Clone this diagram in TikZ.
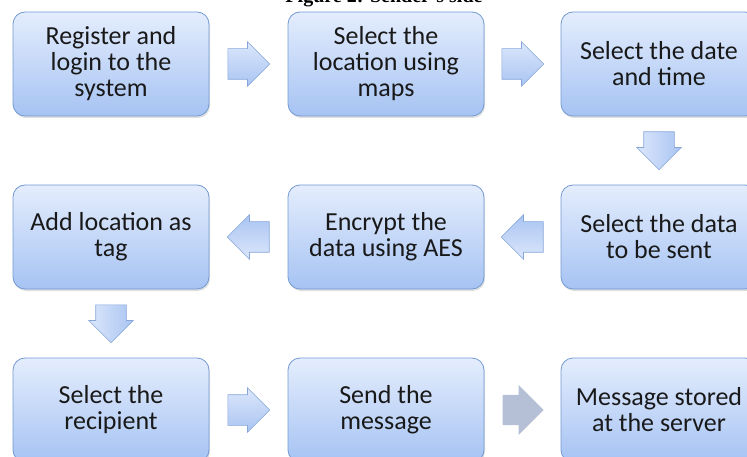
\documentclass[tikz,border=0pt]{standalone}
\usepackage{fontspec}
\setmainfont{Carlito}
\newfontfamily\titlefont{Liberation Serif}
\usetikzlibrary{shapes.arrows,shadows,calc}

\definecolor{boxtop}{HTML}{E4EDFD}
\definecolor{boxbot}{HTML}{A6C3F3}
\definecolor{boxline}{HTML}{739AD3}
\definecolor{arrtop}{HTML}{DCE7FB}
\definecolor{arrbot}{HTML}{A9C4F2}
\definecolor{arrline}{HTML}{86A6DA}
\definecolor{sendgray}{HTML}{B5C0D7}

\tikzset{
  stepbox/.style={draw=boxline, line width=0.8pt, rounded corners=12pt,
    top color=boxtop, bottom color=boxbot,
    minimum width=196pt, minimum height=104pt, align=center,
    text=black!90, font=\fontsize{26}{26}\selectfont,
    drop shadow={opacity=0.25, shadow xshift=1pt, shadow yshift=-2pt}},
  flowarrow/.style={single arrow, single arrow head extend=7pt, anchor=tail,
    inner xsep=0pt, inner ysep=15pt, minimum height=42pt,
    draw=arrline, line width=0.6pt, top color=arrtop, bottom color=arrbot},
  grayarrow/.style={single arrow, single arrow head extend=10pt, anchor=tail,
    inner xsep=0pt, inner ysep=15pt, minimum height=41pt, fill=sendgray}
}

\begin{document}
\begin{tikzpicture}[x=1pt,y=-1pt]
    \useasboundingbox (0,0) rectangle (747,457);
    \clip (0,0) rectangle (747,457);

    % Title (cut off at the top)
    \node[font=\titlefont\bfseries\fontsize{20}{24}\selectfont, anchor=base] (title) at (384,3) {Figure 2: Sender’s side};

    % Steps, first row
    \node[stepbox] (register) at (111,64) {Register and\\login to the\\system};
    \node[stepbox] (location) at (386,64) {Select the\\location using\\maps};
    \node[stepbox] (datetime) at (659,64) {Select the date\\and time};

    % Steps, second row
    \node[stepbox] (dataselect) at (659,237) {Select the data\\to be sent};
    \node[stepbox] (encrypt) at (386,237) {Encrypt the\\data using AES};
    \node[stepbox] (addtag) at (111,237) {Add location as\\tag};

    % Steps, third row
    \node[stepbox] (recipient) at (111,410) {Select the\\recipient};
    \node[stepbox] (send) at (386,410) {Send the\\message};
    \node[stepbox] (stored) at (659,410) {Message stored\\at the server};

    % Block arrows
    \node[flowarrow] (a1) at ($(register.east)!0.5!(location.west)+(-21,0)$) {};
    \node[flowarrow] (a2) at ($(location.east)!0.5!(datetime.west)+(-21,0)$) {};
    \node[flowarrow, minimum height=38pt, rotate=-90, shading angle=90] (a3) at ($(datetime.south)!0.5!(dataselect.north)+(0,-19)$) {};
    \node[flowarrow, rotate=180, shading angle=180] (a4) at ($(dataselect.west)!0.5!(encrypt.east)+(21,0)$) {};
    \node[flowarrow, rotate=180, shading angle=180] (a5) at ($(encrypt.west)!0.5!(addtag.east)+(21,0)$) {};
    \node[flowarrow, minimum height=38pt, rotate=-90, shading angle=90] (a6) at ($(addtag.south)!0.5!(recipient.north)+(0,-19)$) {};
    \node[flowarrow] (a7) at ($(recipient.east)!0.5!(send.west)+(-21,0)$) {};
    \node[grayarrow] (a8) at ($(send.east)!0.5!(stored.west)+(-20,0)$) {};
\end{tikzpicture}
\end{document}
